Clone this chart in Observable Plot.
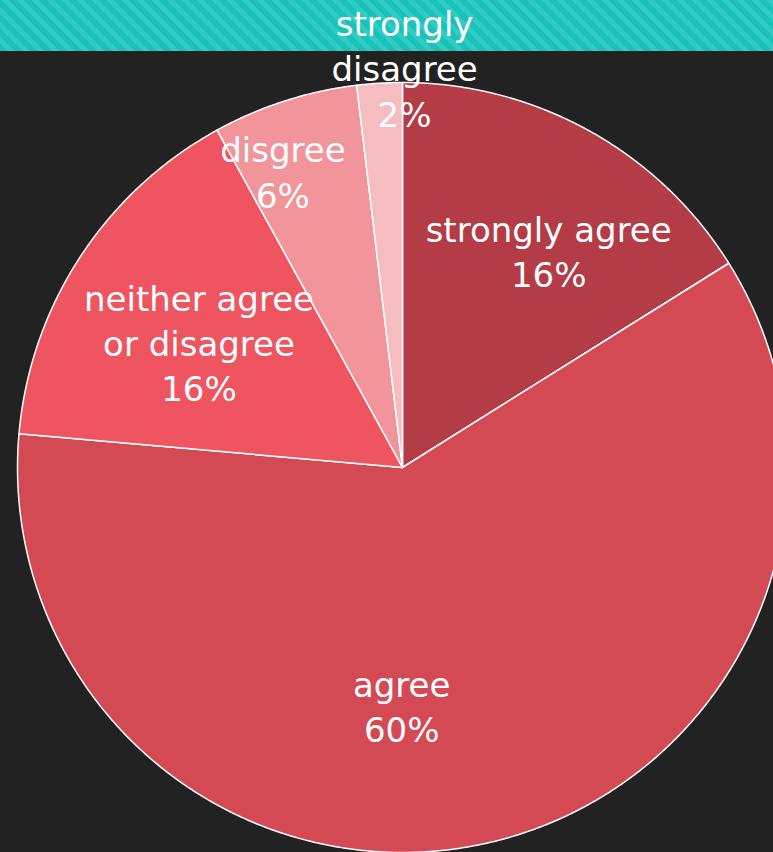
<!DOCTYPE html>
<html><head><meta charset="utf-8">
<script src="https://cdn.jsdelivr.net/npm/d3@7"></script>
<script src="https://cdn.jsdelivr.net/npm/@observablehq/plot@0.6"></script>
<style>
html,body{margin:0;padding:0;background:#222222;overflow:hidden}
#wrap{position:relative;width:773px;height:852px;background:#222222}
#band{position:absolute;left:0;top:0;width:773px;height:51px;background:repeating-linear-gradient(45deg,#19c2b8 0px,#19c2b8 5.3px,#30ccc3 5.3px,#30ccc3 10.6px)}
#chart{position:absolute;left:0;top:0}
</style></head><body>
<div id="wrap"><div id="band"></div><div id="chart"></div></div>
<script>
// ---- data ----
const categories = ["strongly agree", "agree", "neither agree or disagree", "disgree", "strongly disagree"];
const labelTexts = ["strongly agree", "agree", "neither agree\nor disagree", "disgree", "strongly\ndisagree"];
const values = [16.1, 60.3, 15.6, 6.1, 1.9];
const colors = ["#b33c46", "#d34a55", "#ee5560", "#f2959b", "#f5bdc0"];

// ---- layout (label placement, Excel "best fit" look) ----
const labelLayout = {
  "strongly agree": {angle: 34.4, r: 0.672},
  "agree": {angle: 180.2, r: 0.627},
  "neither agree or disagree": {angle: 300.9, r: 0.616},
  "disgree": {angle: 337.8, r: 0.822},
  "strongly disagree": {angle: 0.3, r: 1.03}
};

const total = d3.sum(values);
const arcs = d3.pie().sort(null).value(d => d)(values);

const pts = [];
arcs.forEach((a, i) => {
  const key = categories[i];
  pts.push({key, x: 0, y: 0});
  const n = Math.max(8, Math.ceil((a.endAngle - a.startAngle) / 0.005));
  for (let k = 0; k <= n; k++) {
    const t = a.startAngle + (a.endAngle - a.startAngle) * k / n;
    pts.push({key, x: Math.sin(t), y: Math.cos(t)});
  }
  pts.push({key, x: 0, y: 0});
});

const labels = categories.map((c, i) => {
  const L = labelLayout[c];
  const t = L.angle * Math.PI / 180;
  return {
    key: c,
    x: Math.sin(t) * L.r,
    y: Math.cos(t) * L.r,
    text: labelTexts[i] + "\n" + Math.round(values[i] / total * 100) + "%"
  };
});

const R = 385, cx = 402, cy = 467, W = 773, H = 852;
const chart = Plot.plot({
  width: W, height: H,
  margin: 0,
  style: {background: "transparent", overflow: "visible"},
  x: {domain: [-cx / R, (W - cx) / R], axis: null},
  y: {domain: [-(H - cy) / R, cy / R], axis: null},
  color: {domain: categories, range: colors},
  marks: [
    Plot.line(pts, {x: "x", y: "y", z: "key", fill: "key", stroke: "white", strokeWidth: 1.5, curve: "linear"}),
    Plot.text(labels, {x: "x", y: "y", text: "text", fill: "white", fontSize: 34, lineHeight: 1.33, dy: -4,
      fontFamily: "'DejaVu Sans', sans-serif", textAnchor: "middle"})
  ]
});
document.getElementById("chart").appendChild(chart);
</script>
</body></html>
